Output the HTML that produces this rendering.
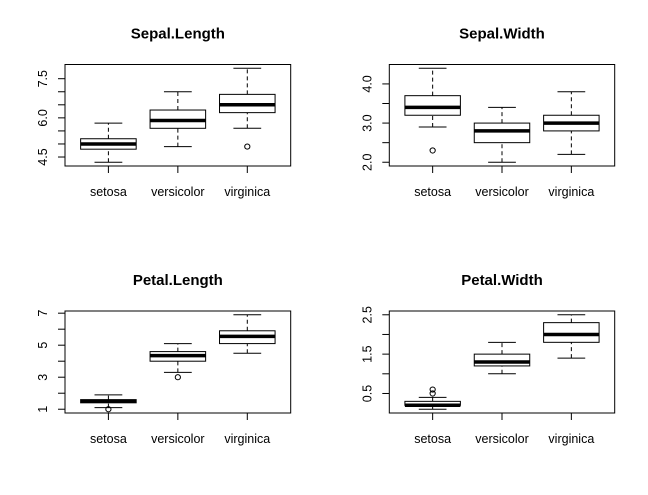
<!DOCTYPE html>
<html><head><meta charset="utf-8"><style>
body{margin:0;background:#fff}
svg{display:block;font-family:"Liberation Sans",Arial,sans-serif}
</style></head><body>
<svg id="c" width="648" height="495" xmlns="http://www.w3.org/2000/svg"></svg>
<script>
const categories=["setosa","versicolor","virginica"];
const titles=["Sepal.Length","Sepal.Width","Petal.Length","Petal.Width"];
// [lowWhisker, q1, median, q3, highWhisker] per species
const sepalLength=[[4.3,4.8,5.0,5.2,5.8],[4.9,5.6,5.9,6.3,7.0],[5.6,6.2,6.5,6.9,7.9]];
const sepalWidth=[[2.9,3.2,3.4,3.7,4.4],[2.0,2.5,2.8,3.0,3.4],[2.2,2.8,3.0,3.2,3.8]];
const petalLength=[[1.1,1.4,1.5,1.6,1.9],[3.3,4.0,4.35,4.6,5.1],[4.5,5.1,5.55,5.9,6.9]];
const petalWidth=[[0.1,0.2,0.2,0.3,0.4],[1.0,1.2,1.3,1.5,1.8],[1.4,1.8,2.0,2.3,2.5]];
const outSL=[[],[],[4.9]];
const outSW=[[2.3],[],[]];
const outPL=[[1.0],[3.0],[]];
const outPW=[[0.5,0.6],[],[]];
const ticksSL=[4.5,5.0,5.5,6.0,6.5,7.0,7.5];
const labelsSL=["4.5","","","6.0","","","7.5"];
const ticksSW=[2.0,2.5,3.0,3.5,4.0];
const labelsSW=["2.0","","3.0","","4.0"];
const ticksPL=[1,2,3,4,5,6,7];
const labelsPL=["1","","3","","5","","7"];
const ticksPW=[0.5,1.0,1.5,2.0,2.5];
const labelsPW=["0.5","","1.5","","2.5"];

const stats=[sepalLength,sepalWidth,petalLength,petalWidth];
const outs=[outSL,outSW,outPL,outPW];
const ticks=[ticksSL,ticksSW,ticksPL,ticksPW];
const tlabels=[labelsSL,labelsSW,labelsPL,labelsPW];
const svg=document.getElementById('c');
const NS="http://www.w3.org/2000/svg";
function mk(tag,attrs,parent,text){const e=document.createElementNS(NS,tag);for(const k in attrs)e.setAttribute(k,attrs[k]);if(text!==undefined)e.textContent=text;parent.appendChild(e);return e;}

for(let p=0;p<4;p++){
  const col=p%2,row=Math.floor(p/2);
  const X0=65+col*324.3,X1=290.7+col*324,Y0=64.5+row*246.5,Y1=166+row*247;
  const g=mk('g',{},svg);
  
  
  let lo=Infinity,hi=-Infinity;
  stats[p].forEach((s,i)=>{lo=Math.min(lo,s[0],...outs[p][i]);hi=Math.max(hi,s[4],...outs[p][i]);});
  const pad=(hi-lo)*0.04;const ymin=lo-pad,ymax=hi+pad;
  const y=v=>Y1-(v-ymin)/(ymax-ymin)*(Y1-Y0);
  const xmin=0.5-0.125,xmax=3.5+0.125;
  const x=v=>X0+(v-xmin)/(xmax-xmin)*(X1-X0);
  const u=(X1-X0)/(xmax-xmin);
  const t=mk('text',{x:(X0+X1)/2,y:Y0-26,'text-anchor':'middle','font-size':'15','font-weight':'bold'},g,titles[p]);
  
  
  const fr=mk('rect',{x:X0,y:Y0,width:X1-X0,height:Y1-Y0,fill:'none',stroke:'#000','stroke-width':1},g);
  
  
  const tk=ticks[p];
  tk.forEach((v,i)=>{
    mk('line',{x1:X0,x2:X0-7,y1:y(v),y2:y(v),stroke:'#000'},g);
    if(tlabels[p][i]){const l=mk('text',{x:X0-18,y:y(v),'font-size':'12.5','text-anchor':'middle',transform:`rotate(-90 ${X0-18} ${y(v)})`},g,tlabels[p][i]);
      
      }
  });
  categories.forEach((c,i)=>{
    const cx=x(i+1);
    mk('line',{x1:cx,x2:cx,y1:Y1,y2:Y1+7,stroke:'#000'},g);
    const l=mk('text',{x:cx,y:Y1+30,'font-size':'12.5','text-anchor':'middle'},g,c);
    
    
    const s=stats[p][i];const bw=0.4*u,sw=0.2*u;
    const bx=mk('g',{},g);
    
    
    mk('line',{x1:cx,x2:cx,y1:y(s[0]),y2:y(s[1]),stroke:'#000','stroke-dasharray':'4,3'},bx);
    mk('line',{x1:cx,x2:cx,y1:y(s[3]),y2:y(s[4]),stroke:'#000','stroke-dasharray':'4,3'},bx);
    mk('line',{x1:cx-sw,x2:cx+sw,y1:y(s[0]),y2:y(s[0]),stroke:'#000'},bx);
    mk('line',{x1:cx-sw,x2:cx+sw,y1:y(s[4]),y2:y(s[4]),stroke:'#000'},bx);
    mk('rect',{x:cx-bw,y:y(s[3]),width:2*bw,height:y(s[1])-y(s[3]),fill:'#fff',stroke:'#000'},bx);
    mk('line',{x1:cx-bw,x2:cx+bw,y1:y(s[2]),y2:y(s[2]),stroke:'#000','stroke-width':3.5},bx);
    outs[p][i].forEach(o=>{const pt=mk('circle',{cx:cx,cy:y(o),r:2.6,fill:'none',stroke:'#000'},bx);
      
      });
  });
}
</script>
</body></html>
